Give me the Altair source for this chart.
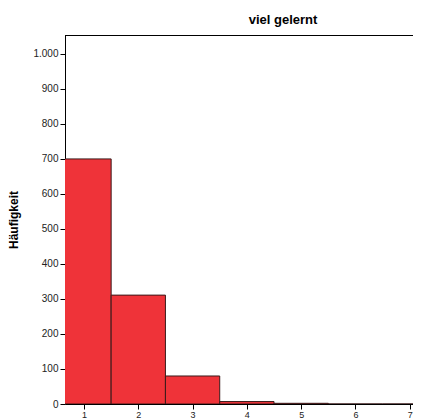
import altair as alt
import pandas as pd

categories = [1, 2, 3, 4, 5, 6, 7]
counts = [700, 311, 80, 7, 2, 0, 0]

df = pd.DataFrame({
    "cat": categories,
    "count": counts,
})
df["x0"] = df["cat"] - 0.5
df["x1"] = df["cat"] + 0.5

FONT = "Liberation Sans"
W = 348
H = 369

bars = alt.Chart(df).mark_bar(
    fill="#EF3339", stroke="#3a1a1a", strokeWidth=1, clip=True
).encode(
    x=alt.X("x0:Q",
            scale=alt.Scale(domain=[0.65, 7.06], nice=False, zero=False),
            axis=alt.Axis(values=categories, title=None, grid=False, format="d",
                          tickSize=5, labelPadding=1, labelFontSize=9,
                          labelColor="#222", domainColor="black", tickColor="black",
                          labelFont=FONT)),
    x2="x1:Q",
    y=alt.Y("count:Q",
            scale=alt.Scale(domain=[0, 1054], nice=False),
            axis=alt.Axis(values=list(range(0, 1001, 100)), title="Häufigkeit", grid=False,
                          labelExpr="replace(format(datum.value, ','), ',', '.')",
                          tickSize=5, labelPadding=2, labelFontSize=10,
                          labelColor="#222", domainColor="black", tickColor="black",
                          titleFontSize=12, titleFont=FONT, titleFontWeight="bold",
                          titlePadding=12, labelFont=FONT)),
    y2=alt.datum(0),
)

top_line = alt.Chart(df).mark_rule(color="black", strokeWidth=1).encode(
    x=alt.value(0), x2=alt.value(W), y=alt.value(0.5)
)

chart = alt.layer(bars, top_line).properties(
    width=W,
    height=H,
    title=alt.TitleParams("viel gelernt", font=FONT, fontSize=13, fontWeight="bold",
                          offset=8, color="black", dx=44),
    autosize=alt.AutoSizeParams(type="none"),
    padding={"left": 57, "top": 27, "right": 0, "bottom": 15},
).configure_view(
    stroke=None
).configure(background="white")

chart.save("out.html", embed_options={"renderer": "svg", "actions": False})
